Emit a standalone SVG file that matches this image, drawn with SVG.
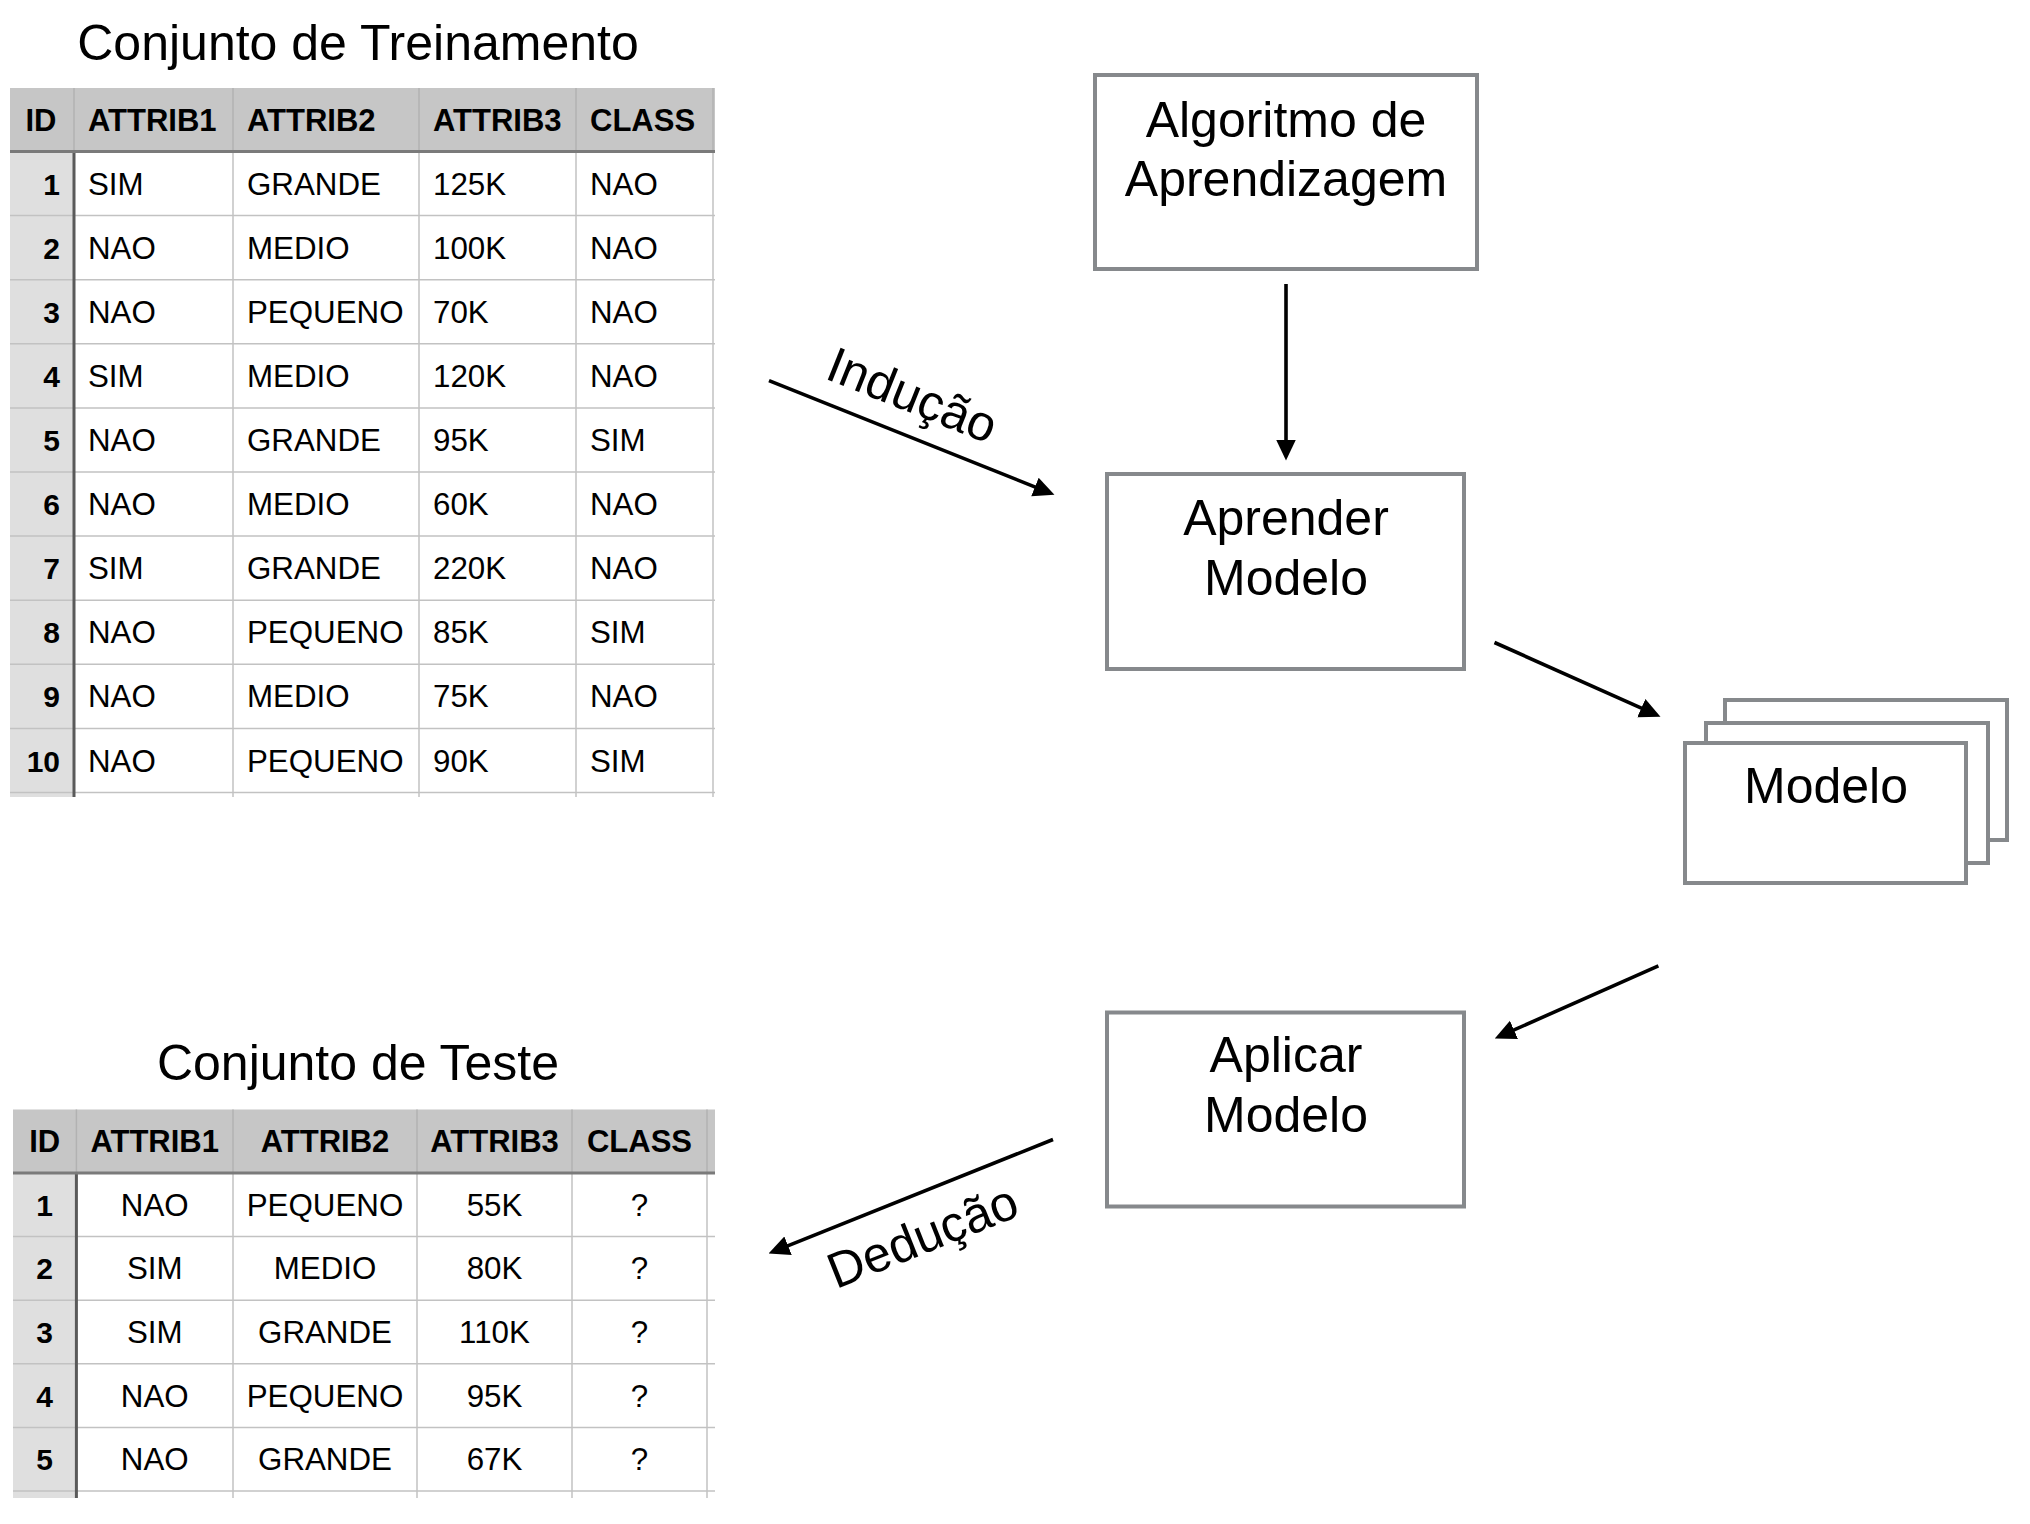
<svg xmlns="http://www.w3.org/2000/svg" width="2030" height="1524" viewBox="0 0 2030 1524">
<style>
text { font-family: "Liberation Sans", Arial, Helvetica, sans-serif; fill: #000; }
.big { font-size: 50px; font-weight: 300; text-anchor: middle; }
.hdr { font-size: 31px; font-weight: bold; }
.idn { font-size: 30px; font-weight: bold; }
.cell { font-size: 31.3px; }
.mid { text-anchor: middle; }
.end { text-anchor: end; }
.box { fill: #fff; stroke: #86898c; stroke-width: 4; }
.hbg { fill: #c6c6c6; }
.idbg { fill: #dfdfdf; }
.grid { stroke: #c2c2c2; stroke-width: 1.5; fill: none; }
.hgrid { stroke: #b2b2b2; stroke-width: 1.5; fill: none; }
.dark { stroke: #5a5a5a; stroke-width: 3; fill: none; }
.hline { stroke: #7a7a7a; stroke-width: 3; fill: none; }
.conn { stroke: #000; stroke-width: 3.6; fill: none; marker-end: url(#ah); }
</style>
<defs>
<marker id="ah" markerUnits="userSpaceOnUse" viewBox="0 0 20 20" markerWidth="21" markerHeight="21" refX="10" refY="10" orient="auto">
<path d="M0,0.5 L20,10 L0,19.5 Z" fill="#000"/>
</marker>
</defs>
<rect width="2030" height="1524" fill="#fff"/>

<g id="training-set">
<text class="big" x="358" y="60">Conjunto de Treinamento</text>
<rect class="hbg" x="10" y="88" width="705" height="63.5"/>
<rect class="idbg" x="10" y="151.5" width="64" height="645.5"/>
<path class="hgrid" d="M74,88V151.5 M233,88V151.5 M419,88V151.5 M576,88V151.5 M713,88V151.5"/>
<path class="grid" d="M10,215.6H715 M10,279.7H715 M10,343.8H715 M10,407.9H715 M10,472H715 M10,536.1H715 M10,600.2H715 M10,664.3H715 M10,728.4H715 M10,792.5H715"/>
<path class="grid" d="M233,151.5V797 M419,151.5V797 M576,151.5V797 M713,151.5V797"/>
<path class="dark" d="M74,151.5V797"/>
<path class="hline" d="M10,151.5H715"/>
<text class="hdr mid" x="41" y="130.5">ID</text>
<text class="hdr" x="88" y="130.5">ATTRIB1</text>
<text class="hdr" x="247" y="130.5">ATTRIB2</text>
<text class="hdr" x="433" y="130.5">ATTRIB3</text>
<text class="hdr" x="590" y="130.5">CLASS</text>
<g class="cell">
<text class="idn end" x="60" y="194.6">1</text><text x="88" y="194.6">SIM</text><text x="247" y="194.6">GRANDE</text><text x="433" y="194.6">125K</text><text x="590" y="194.6">NAO</text>
<text class="idn end" x="60" y="258.7">2</text><text x="88" y="258.7">NAO</text><text x="247" y="258.7">MEDIO</text><text x="433" y="258.7">100K</text><text x="590" y="258.7">NAO</text>
<text class="idn end" x="60" y="322.8">3</text><text x="88" y="322.8">NAO</text><text x="247" y="322.8">PEQUENO</text><text x="433" y="322.8">70K</text><text x="590" y="322.8">NAO</text>
<text class="idn end" x="60" y="386.9">4</text><text x="88" y="386.9">SIM</text><text x="247" y="386.9">MEDIO</text><text x="433" y="386.9">120K</text><text x="590" y="386.9">NAO</text>
<text class="idn end" x="60" y="451">5</text><text x="88" y="451">NAO</text><text x="247" y="451">GRANDE</text><text x="433" y="451">95K</text><text x="590" y="451">SIM</text>
<text class="idn end" x="60" y="515.1">6</text><text x="88" y="515.1">NAO</text><text x="247" y="515.1">MEDIO</text><text x="433" y="515.1">60K</text><text x="590" y="515.1">NAO</text>
<text class="idn end" x="60" y="579.2">7</text><text x="88" y="579.2">SIM</text><text x="247" y="579.2">GRANDE</text><text x="433" y="579.2">220K</text><text x="590" y="579.2">NAO</text>
<text class="idn end" x="60" y="643.3">8</text><text x="88" y="643.3">NAO</text><text x="247" y="643.3">PEQUENO</text><text x="433" y="643.3">85K</text><text x="590" y="643.3">SIM</text>
<text class="idn end" x="60" y="707.4">9</text><text x="88" y="707.4">NAO</text><text x="247" y="707.4">MEDIO</text><text x="433" y="707.4">75K</text><text x="590" y="707.4">NAO</text>
<text class="idn end" x="60" y="771.5">10</text><text x="88" y="771.5">NAO</text><text x="247" y="771.5">PEQUENO</text><text x="433" y="771.5">90K</text><text x="590" y="771.5">SIM</text>
</g>
</g>

<g id="test-set">
<text class="big" x="358" y="1080">Conjunto de Teste</text>
<rect class="hbg" x="13" y="1109.5" width="702" height="63.5"/>
<rect class="idbg" x="13" y="1173" width="63.4" height="325"/>
<path class="hgrid" d="M76.4,1109.5V1173 M233,1109.5V1173 M417,1109.5V1173 M572,1109.5V1173 M707,1109.5V1173"/>
<path class="grid" d="M13,1236.6H715 M13,1300.2H715 M13,1363.8H715 M13,1427.4H715 M13,1491H715"/>
<path class="grid" d="M233,1173V1498 M417,1173V1498 M572,1173V1498 M707,1173V1498"/>
<path class="dark" d="M76.4,1173V1498"/>
<path class="hline" d="M13,1173H715"/>
<text class="hdr mid" x="44.7" y="1152">ID</text>
<text class="hdr mid" x="154.7" y="1152">ATTRIB1</text>
<text class="hdr mid" x="325" y="1152">ATTRIB2</text>
<text class="hdr mid" x="494.5" y="1152">ATTRIB3</text>
<text class="hdr mid" x="639.5" y="1152">CLASS</text>
<g class="cell">
<text class="idn mid" x="44.7" y="1215.8">1</text><text class="mid" x="154.7" y="1215.8">NAO</text><text class="mid" x="325" y="1215.8">PEQUENO</text><text class="mid" x="494.5" y="1215.8">55K</text><text class="mid" x="639.5" y="1215.8">?</text>
<text class="idn mid" x="44.7" y="1279.4">2</text><text class="mid" x="154.7" y="1279.4">SIM</text><text class="mid" x="325" y="1279.4">MEDIO</text><text class="mid" x="494.5" y="1279.4">80K</text><text class="mid" x="639.5" y="1279.4">?</text>
<text class="idn mid" x="44.7" y="1343">3</text><text class="mid" x="154.7" y="1343">SIM</text><text class="mid" x="325" y="1343">GRANDE</text><text class="mid" x="494.5" y="1343">110K</text><text class="mid" x="639.5" y="1343">?</text>
<text class="idn mid" x="44.7" y="1406.6">4</text><text class="mid" x="154.7" y="1406.6">NAO</text><text class="mid" x="325" y="1406.6">PEQUENO</text><text class="mid" x="494.5" y="1406.6">95K</text><text class="mid" x="639.5" y="1406.6">?</text>
<text class="idn mid" x="44.7" y="1470.2">5</text><text class="mid" x="154.7" y="1470.2">NAO</text><text class="mid" x="325" y="1470.2">GRANDE</text><text class="mid" x="494.5" y="1470.2">67K</text><text class="mid" x="639.5" y="1470.2">?</text>
</g>
</g>

<g id="algoritmo">
<rect class="box" x="1095" y="75" width="382" height="194"/>
<text class="big" x="1286" y="137">Algoritmo de</text>
<text class="big" x="1286" y="196">Aprendizagem</text>
</g>

<g id="aprender-modelo">
<rect class="box" x="1107" y="474" width="357" height="195"/>
<text class="big" x="1286" y="535">Aprender</text>
<text class="big" x="1286" y="595">Modelo</text>
</g>

<g id="modelo">
<rect class="box" x="1725" y="700" width="282" height="140"/>
<rect class="box" x="1706" y="723" width="282" height="140"/>
<rect class="box" x="1685" y="743" width="281" height="140"/>
<text class="big" x="1826" y="803">Modelo</text>
</g>

<g id="aplicar-modelo">
<rect class="box" x="1107" y="1012.5" width="357" height="194"/>
<text class="big" x="1286" y="1072">Aplicar</text>
<text class="big" x="1286" y="1132">Modelo</text>
</g>

<g id="connectors">
<path class="conn" d="M1286,284 L1286,450"/>
<path class="conn" d="M769,380.6 L1044.7,490.8"/>
<path class="conn" d="M1494.5,642.5 L1650.9,712.4"/>
<path class="conn" d="M1658.4,965.8 L1504.4,1034.2"/>
<path class="conn" d="M1053,1139.5 L778.3,1249.6"/>
<text class="big" transform="translate(906,411) rotate(21.8)">Indução</text>
<text class="big" transform="translate(929,1252) rotate(-21.8)">Dedução</text>
</g>
</svg>
